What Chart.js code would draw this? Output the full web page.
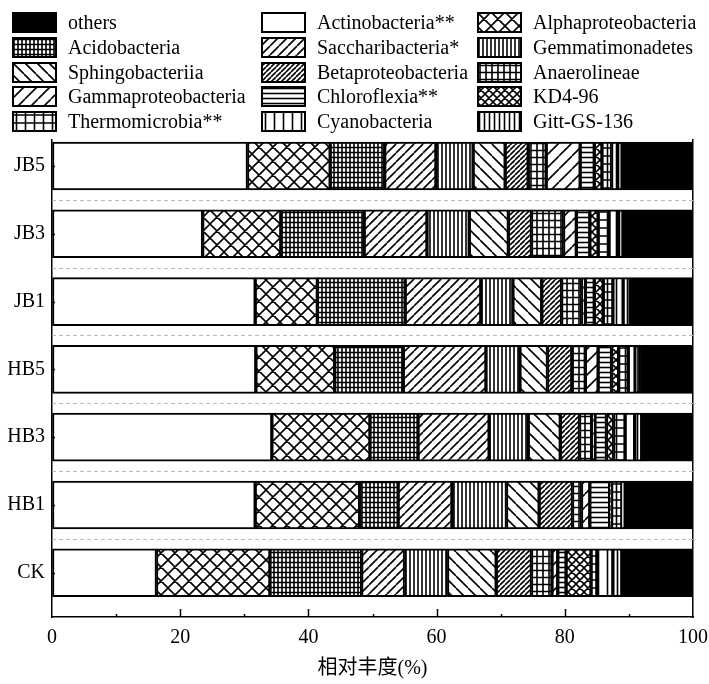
<!DOCTYPE html>
<html>
<head>
<meta charset="utf-8">
<script src="https://cdn.jsdelivr.net/npm/chart.js"></script>
<style>
    html, body { margin: 0; padding: 0; background: #fff; }
    #wrap { position: relative; width: 709px; height: 684px; }
    #chart { position: absolute; left: 0; top: 0; }
    .lg { position: absolute; height: 20px; font: 20px "Liberation Serif", "Times New Roman", serif; color: #000; white-space: nowrap; }
    .lg canvas { position: absolute; left: 0; top: 0; }
    .lg span { position: absolute; top: -2px; line-height: 24px; }
</style>
</head>
<body>
<div id="wrap">
    <canvas id="chart" width="709" height="684"></canvas>
    <div id="legend"></div>
</div>
<script>
// samples, top to bottom
var categories = ["JB5", "JB3", "JB1", "HB5", "HB3", "HB1", "CK"];
var xTicks = [0, 20, 40, 60, 80, 100];

// relative abundance (%) per class, in stacking order (left -> right)
var actinobacteria      = [30.5, 23.5, 31.7, 31.8, 34.3, 31.7, 16.3];
var alphaproteobacteria = [12.9, 12.2,  9.7, 12.3, 15.3, 16.3, 17.7];
var acidobacteria       = [ 8.5, 13.0, 13.7, 10.7,  7.5,  6.0, 14.3];
var saccharibacteria    = [ 8.0,  9.8, 11.8, 12.9, 11.1,  8.4,  6.7];
var gemmatimonadetes    = [ 5.8,  6.6,  5.0,  5.3,  6.1,  8.5,  6.7];
var sphingobacteriia    = [ 5.0,  6.1,  4.5,  4.3,  5.0,  5.1,  7.6];
var betaproteobacteria  = [ 3.6,  3.6,  3.1,  3.8,  3.0,  5.2,  5.5];
var anaerolineae        = [ 2.8,  5.0,  3.1,  2.1,  1.9,  1.4,  3.2];
var gammaproteobacteria = [ 5.3,  2.0,  0.6,  2.0,  0.5,  1.3,  0.9];
var chloroflexia        = [ 2.2,  2.1,  1.4,  2.1,  1.8,  3.1,  1.3];
var kd496               = [ 1.2,  1.3,  1.4,  1.1,  1.1,  0.3,  3.9];
var thermomicrobia      = [ 1.5,  1.7,  1.5,  1.5,  1.8,  1.6,  0.9];
var cyanobacteria       = [ 1.0,  1.5,  1.6,  1.1,  1.5,  0.2,  2.5];
var gittGS136           = [ 0.6,  0.7,  1.1,  0.5,  1.1,  0.1,  1.4];
var others              = [11.1, 10.9,  9.8,  8.5,  8.0, 10.8, 11.1];

// hatch tile: kind, width, height
function makeTile(kind, w, h) {
    var c = document.createElement("canvas");
    c.width = w; c.height = h;
    var g = c.getContext("2d");
    g.fillStyle = kind == "solid" ? "#000" : "#fff";
    g.fillRect(0, 0, w, h);
    g.strokeStyle = "#000";
    g.lineWidth = 1.6;
    g.beginPath();
    for (var k = -1; k <= 1; k++) {
        if (kind == "fwd" || kind == "cross") { g.moveTo(k * w, h); g.lineTo(k * w + w, 0); }
        if (kind == "back" || kind == "cross") { g.moveTo(k * w, 0); g.lineTo(k * w + w, h); }
    }
    if (kind == "grid" || kind == "vert") { g.moveTo(w / 2, 0); g.lineTo(w / 2, h); }
    if (kind == "grid" || kind == "horiz") { g.moveTo(0, h / 2); g.lineTo(w, h / 2); }
    g.stroke();
    return c;
}

var series = [
    { name: "Actinobacteria**",    data: actinobacteria,      tile: ["none", 4, 4] },
    { name: "Alphaproteobacteria", data: alphaproteobacteria, tile: ["cross", 14, 14] },
    { name: "Acidobacteria",       data: acidobacteria,       tile: ["grid", 4, 5] },
    { name: "Saccharibacteria*",   data: saccharibacteria,    tile: ["fwd", 9, 9] },
    { name: "Gemmatimonadetes",    data: gemmatimonadetes,    tile: ["vert", 4, 4] },
    { name: "Sphingobacteriia",    data: sphingobacteriia,    tile: ["back", 12, 12] },
    { name: "Betaproteobacteria",  data: betaproteobacteria,  tile: ["fwd", 5, 5] },
    { name: "Anaerolineae",        data: anaerolineae,        tile: ["grid", 6, 7] },
    { name: "Gammaproteobacteria", data: gammaproteobacteria, tile: ["fwd", 13, 13] },
    { name: "Chloroflexia**",      data: chloroflexia,        tile: ["horiz", 4, 5] },
    { name: "KD4-96",              data: kd496,               tile: ["cross", 8, 8] },
    { name: "Thermomicrobia**",    data: thermomicrobia,      tile: ["grid", 9, 8] },
    { name: "Cyanobacteria",       data: cyanobacteria,       tile: ["vert", 9, 4] },
    { name: "Gitt-GS-136",         data: gittGS136,           tile: ["vert", 5, 4] },
    { name: "others",              data: others,              tile: ["solid", 4, 4] }
];

var ctx = document.getElementById("chart").getContext("2d");
series.forEach(function (s) {
    s.pattern = ctx.createPattern(makeTile(s.tile[0], s.tile[1], s.tile[2]), "repeat");
});

// legend is 3 columns x 5 rows, read row by row
var legendOrder = ["others", "Actinobacteria**", "Alphaproteobacteria",
    "Acidobacteria", "Saccharibacteria*", "Gemmatimonadetes",
    "Sphingobacteriia", "Betaproteobacteria", "Anaerolineae",
    "Gammaproteobacteria", "Chloroflexia**", "KD4-96",
    "Thermomicrobia**", "Cyanobacteria", "Gitt-GS-136"];
var colX = [12, 261, 477];
var legend = document.getElementById("legend");
legendOrder.forEach(function (name, i) {
    var s = series.filter(function (d) { return d.name == name; })[0];
    var item = document.createElement("div");
    item.className = "lg";
    item.style.left = colX[i % 3] + "px";
    item.style.top = (12 + Math.floor(i / 3) * 24.8) + "px";
    var sw = document.createElement("canvas");
    sw.width = 45; sw.height = 21;
    var g = sw.getContext("2d");
    g.fillStyle = g.createPattern(makeTile(s.tile[0], s.tile[1], s.tile[2]), "repeat");
    g.fillRect(0, 0, 45, 21);
    g.strokeStyle = "#000"; g.lineWidth = 2;
    g.strokeRect(1, 1, 43, 19);
    var tx = document.createElement("span");
    tx.style.left = "56px";
    tx.textContent = name;
    item.appendChild(sw);
    item.appendChild(tx);
    legend.appendChild(item);
});

// dotted separators between samples, inward tick marks on the axes
var axisBits = {
    id: "axisBits",
    beforeDatasetsDraw: function (chart) {
        var a = chart.chartArea, y = chart.scales.y, c = chart.ctx;
        c.save();
        c.strokeStyle = "#b8b8b8"; c.lineWidth = 1;
        c.setLineDash([4, 3]);
        c.beginPath();
        for (var i = 0; i < categories.length - 1; i++) {
            var py = Math.round(y.getPixelForValue(i + 0.5)) + 0.5;
            c.moveTo(a.left, py); c.lineTo(a.right, py);
        }
        c.stroke();
        c.restore();
    },
    afterDraw: function (chart) {
        var a = chart.chartArea, x = chart.scales.x, y = chart.scales.y, c = chart.ctx;
        c.save();
        c.strokeStyle = "#000"; c.lineWidth = 1.5;
        c.beginPath();
        for (var v = 10; v < 100; v += 10) {
            var px = Math.round(x.getPixelForValue(v)) + 0.5;
            c.moveTo(px, a.bottom); c.lineTo(px, a.bottom - (v % 20 == 0 ? 8 : 3));
        }
        categories.forEach(function (lab, i) {
            var py = Math.round(y.getPixelForValue(i)) + 0.5;
            c.moveTo(a.left, py); c.lineTo(a.left + 3, py);
        });
        c.stroke();
        c.restore();
    }
};

var font = { family: "'Liberation Serif', 'Times New Roman', serif", size: 20 };
var yMin = -0.383, yMax = 6.652;

new Chart(ctx, {
    type: "bar",
    data: {
        datasets: series.map(function (s) {
            return {
                label: s.name,
                data: s.data.map(function (v, i) { return { x: v, y: i }; }),
                backgroundColor: s.pattern,
                borderColor: "#000",
                borderWidth: 2,
                borderSkipped: false,
                barThickness: 48
            };
        })
    },
    options: {
        indexAxis: "y",
        responsive: false,
        animation: false,
        devicePixelRatio: 1,
        layout: { padding: { top: 140, right: 16, left: 0, bottom: 0 } },
        plugins: { legend: { display: false }, tooltip: { enabled: false } },
        scales: {
            x: {
                type: "linear",
                stacked: true,
                min: 0, max: 100,
                afterBuildTicks: function (s) { s.ticks = xTicks.map(function (v) { return { value: v }; }); },
                ticks: { color: "#000", font: font, padding: 9, maxRotation: 0 },
                grid: { display: true, drawOnChartArea: false, drawTicks: false },
                border: { display: true, color: "#000", width: 1.5 },
                title: {
                    display: true, text: "相对丰度(%)", color: "#000",
                    font: { family: "'Liberation Serif', 'Noto Sans CJK SC', serif", size: 20 },
                    padding: { top: 0, bottom: 3 }
                },
                afterFit: function (s) { s.height = 67; s.paddingLeft = 0; s.paddingRight = 0; }
            },
            y: {
                type: "linear",
                stacked: true,
                offset: false,
                grace: 0,
                reverse: true,
                min: yMin, max: yMax,
                afterBuildTicks: function (s) { s.ticks = categories.map(function (c, i) { return { value: i }; }); },
                afterDataLimits: function (s) { s.min = yMin; s.max = yMax; },
                ticks: { color: "#000", font: font, padding: 7, callback: function (v) { return categories[v]; } },
                grid: { display: false, drawTicks: false },
                border: { display: true, color: "#000", width: 1.5 },
                afterFit: function (s) { s.width = 52; s.paddingTop = 0; s.paddingBottom = 0; }
            },
            y2: {
                type: "linear",
                position: "right",
                offset: false,
                reverse: true,
                min: yMin, max: yMax,
                afterDataLimits: function (s) { s.min = yMin; s.max = yMax; },
                ticks: { display: false, padding: 0 },
                grid: { display: false, drawTicks: false },
                border: { display: true, color: "#000", width: 1.5 },
                afterFit: function (s) { s.width = 0; s.paddingTop = 0; s.paddingBottom = 0; }
            }
        }
    },
    plugins: [axisBits]
});
</script>
</body>
</html>
